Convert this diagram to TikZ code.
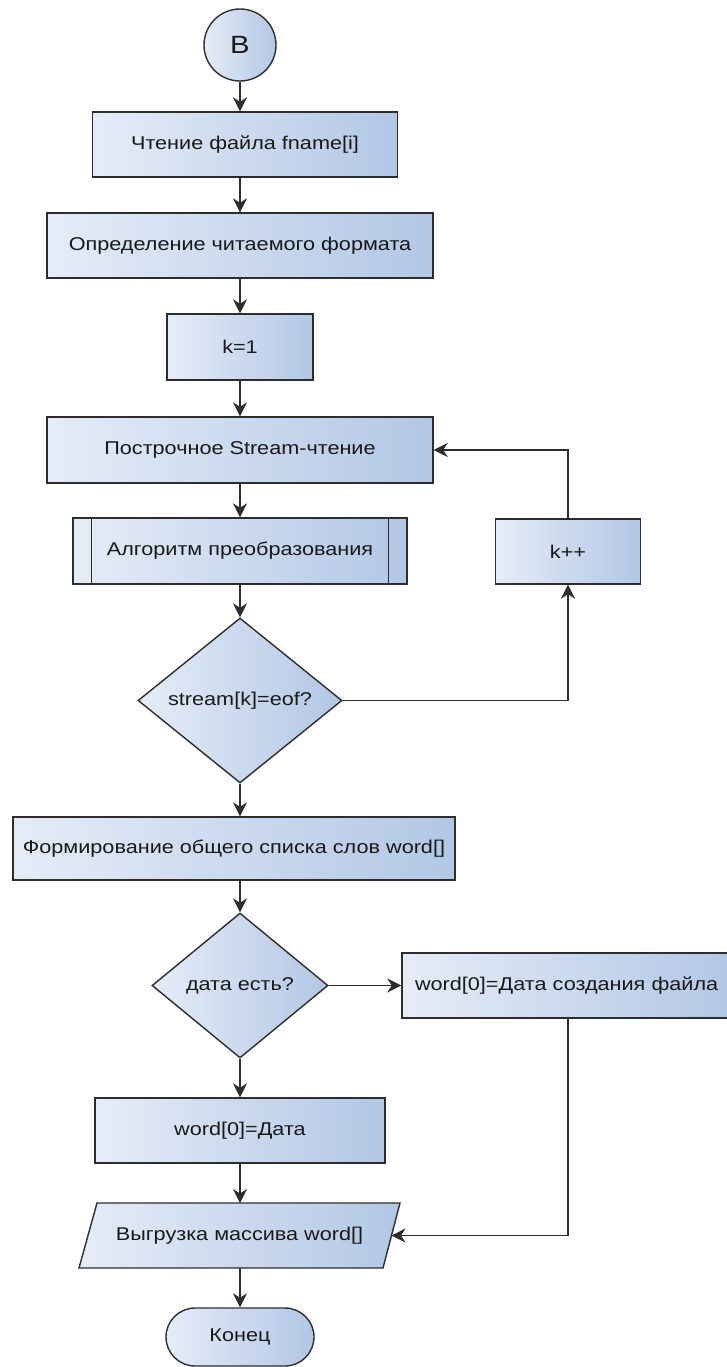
\documentclass[tikz,border=0pt]{standalone}
\usepackage{fontspec}
\setmainfont[FakeStretch=1.17]{Liberation Sans}
\usetikzlibrary{arrows.meta,shapes.geometric,shapes.misc}

\definecolor{fillL}{RGB}{229,236,247}
\definecolor{fillR}{RGB}{178,199,229}
\definecolor{edge}{RGB}{45,45,45}
\definecolor{ink}{RGB}{25,25,25}

\tikzset{
  blk/.style={draw=edge, line width=1.4pt, left color=fillL, right color=fillR,
    text=ink, inner sep=0pt, font=\fontsize{18.5}{22}\selectfont},
  procbox/.style={blk, rectangle},
  decbox/.style={blk, diamond},
  termbox/.style={blk, rounded rectangle},
  connbox/.style={blk, circle},
  arr/.style={draw=edge, line width=1.4pt, -{Stealth[length=14pt,width=14pt,inset=4.5pt]}},
}

\begin{document}
\begin{tikzpicture}[x=1pt,y=-1pt]
\useasboundingbox (0,0) rectangle (726,1367);

% main column
\node[connbox, minimum size=72pt, font=\fontsize{25}{28}\selectfont] (B) at (240,45) {B};
\node[procbox, minimum width=305pt, minimum height=65pt] (read) at (245,144.5) {Чтение файла fname[i]};
\node[procbox, minimum width=386pt, minimum height=65pt] (fmt) at (240,245.5) {Определение читаемого формата};
\node[procbox, minimum width=146pt, minimum height=66pt] (k1) at (240,347) {k=1};
\node[procbox, minimum width=386pt, minimum height=66pt] (stream) at (240,450) {Построчное Stream-чтение};
\node[procbox, minimum width=334pt, minimum height=66pt] (sub) at (240,551) {Алгоритм преобразования};
\draw[draw=edge, line width=1.4pt] ([xshift=19pt]sub.north west) -- ([xshift=19pt]sub.south west)
  ([xshift=-19pt]sub.north east) -- ([xshift=-19pt]sub.south east);
\node[procbox, minimum width=145pt, minimum height=65pt] (kpp) at (568,551.5) {k++};
\node[decbox, minimum width=204pt, minimum height=165pt] (eof) at (240,700.5) {stream[k]=eof?};
\node[procbox, minimum width=442pt, minimum height=63pt] (form) at (234,848.5) {Формирование общего списка слов word[]};
\node[decbox, minimum width=176pt, minimum height=145pt] (date) at (240,985.5) {дата есть?};
\node[procbox, minimum width=332pt, minimum height=65pt, text width=306pt, align=left] (dcr) at (568,985.5) {word[0]=Дата создания файла};
\node[procbox, minimum width=290pt, minimum height=65pt] (d0) at (240,1130.5) {word[0]=Дата};

% output parallelogram
\path[blk] (79,1268) -- (97,1203) -- (400,1203) -- (383,1268) -- cycle;
\node[font=\fontsize{18.5}{22}\selectfont, text=ink, inner sep=0pt] (out) at (239.5,1235.5) {Выгрузка массива word[]};
\coordinate (outN) at (240,1203);
\coordinate (outS) at (240,1268);
\coordinate (outE) at (391.5,1235.5);

\node[termbox, minimum width=148pt, minimum height=58pt] (end) at (240,1337) {Конец};

% connectors
\draw[arr] (B) -- (B |- read.north);
\draw[arr] (fmt.north |- read.south) -- (fmt.north);
\draw[arr] (fmt) -- (k1);
\draw[arr] (k1) -- (stream);
\draw[arr] (stream) -- (sub);
\draw[arr] (sub) -- (eof);
\draw[arr] (eof.south) -- (eof.south |- form.north);
\draw[arr] (eof.east) -| (kpp.south);
\draw[arr] (kpp.north) |- (stream.east);
\draw[arr] (date.north |- form.south) -- (date.north);
\draw[arr] (date.east) -- (dcr.west);
\draw[arr] (date.south) -- (d0.north);
\draw[arr] (d0.south) -- (outN);
\draw[arr] (dcr.south) |- (outE);
\draw[arr] (outS) -- (end.north);
\end{tikzpicture}
\end{document}
